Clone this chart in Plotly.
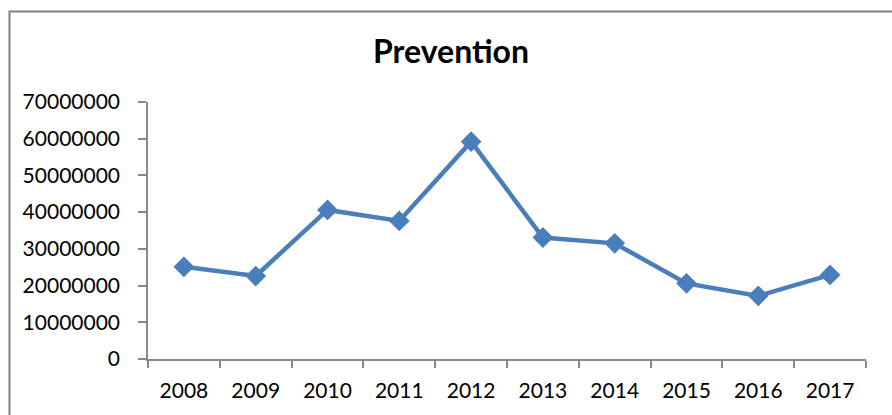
import plotly.graph_objects as go

years = ["2008", "2009", "2010", "2011", "2012", "2013", "2014", "2015", "2016", "2017"]
values = [25100000, 22600000, 40600000, 37600000, 59200000, 33100000, 31500000, 20600000, 17200000, 22900000]
y_ticks = [0, 10000000, 20000000, 30000000, 40000000, 50000000, 60000000, 70000000]

L, R, T, B = 148, 26, 102, 56
W, H = 892, 415
pw, ph = W - L - R, H - T - B

fig = go.Figure(go.Scatter(
    x=years, y=values, mode="lines+markers",
    line=dict(color="#4A7EBB", width=4.5),
    marker=dict(symbol="diamond", size=16, color="#4A7EBB"),
))

fig.update_layout(
    width=W, height=H,
    margin=dict(l=L, r=R, t=T, b=B),
    paper_bgcolor="white", plot_bgcolor="white",
    showlegend=False,
    font=dict(family="Lato, Open Sans, sans-serif", color="black", size=21),
    title=dict(text="<b>Prevention</b>", x=451 / W, xanchor="center",
               y=1 - 52 / H, yanchor="middle",
               font=dict(size=32, family="Lato, Open Sans, sans-serif", color="black")),
    xaxis=dict(type="category", showline=True, linecolor="#898989", linewidth=1.5,
               ticks="outside", ticklen=7, tickcolor="#898989", tickwidth=1.5,
               tickson="boundaries", showgrid=False, zeroline=False,
               ticklabelstandoff=12, range=[-0.5, 9.5]),
    yaxis=dict(range=[0, 70000000], tickvals=y_ticks,
               ticktext=[str(v) for v in y_ticks],
               showline=True, linecolor="#898989", linewidth=1.5,
               ticks="outside", ticklen=8, tickcolor="#898989", tickwidth=1.5,
               showgrid=False, zeroline=False, ticklabelstandoff=14),
    shapes=[dict(type="rect", xref="paper", yref="paper",
                 x0=(9.5 - L) / pw, x1=(W + 20 - L) / pw,
                 y0=-(B + 20) / ph, y1=1 + (T - 11.5) / ph,
                 line=dict(color="#808080", width=2), fillcolor="rgba(0,0,0,0)",
                 layer="below")],
)

fig.write_html("out.html")
